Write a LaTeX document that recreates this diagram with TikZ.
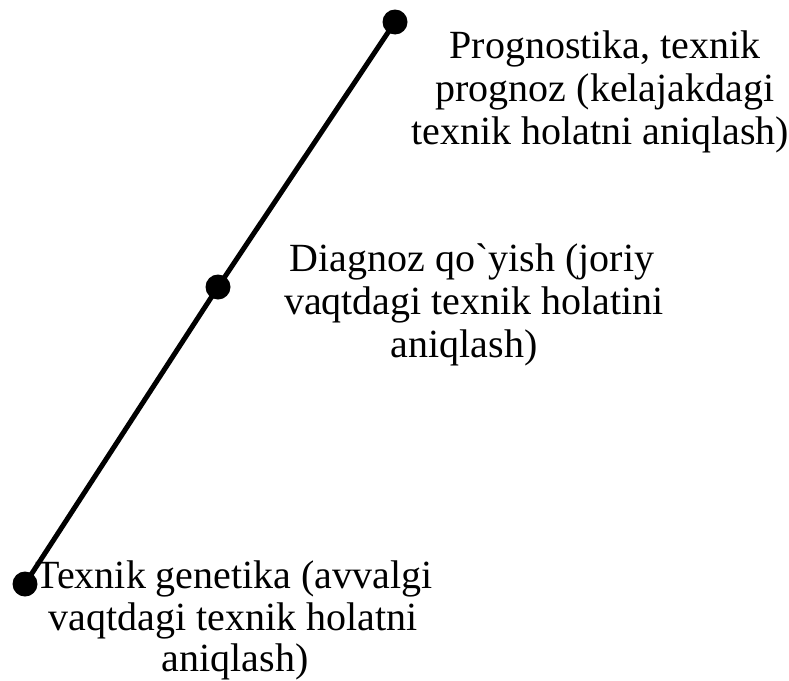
\documentclass[tikz,border=0pt]{standalone}
\usepackage{fontspec}
\setmainfont{Liberation Serif}[Ligatures=TeXOff]
\begin{document}
\begin{tikzpicture}[x=1pt,y=-1pt,
  dot/.style={circle,fill=black,inner sep=0pt,minimum size=25pt},
  lbl/.style={anchor=base,inner sep=0pt,font=\fontsize{40}{43.5}\selectfont}]
\useasboundingbox (0,0) rectangle (789,680);
\node[dot] (d1) at (25,584) {};
\node[dot] (d2) at (218,287) {};
\node[dot] (d3) at (395,22) {};
\draw[line width=5pt] (d1.center) -- (d2.center) -- (d3.center);
\node[lbl] (p1) at (605,58) {Prognostika, texnik};
\node[lbl] (p2) at (605,101) {prognoz (kelajakdagi};
\node[lbl] (p3) at (600,144) {texnik holatni aniqlash)};
\node[lbl] (m1) at (472,271) {Diagnoz qo`yish (joriy};
\node[lbl] (m2) at (474,314) {vaqtdagi texnik holatini};
\node[lbl] (m3) at (464,357) {aniqlash)};
\node[lbl] (b1) at (234,588) {Texnik genetika (avvalgi};
\node[lbl] (b2) at (233,630) {vaqtdagi texnik holatni};
\node[lbl] (b3) at (235,671) {aniqlash)};
\end{tikzpicture}
\end{document}
